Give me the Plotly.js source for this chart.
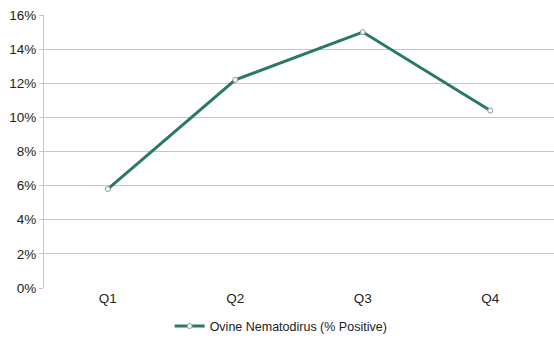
<!DOCTYPE html>
<html><head><meta charset="utf-8">
<script src="https://cdn.plot.ly/plotly-3.0.1.min.js"></script>
<style>html,body{margin:0;padding:0;background:#fff}#c{width:554px;height:340px}</style>
</head><body><div id="c"></div>
<script>
const categories = ["Q1", "Q2", "Q3", "Q4"];
const values = [0.058, 0.122, 0.150, 0.104];
const seriesName = "Ovine Nematodirus (% Positive)";
const yTicks = [0, 0.02, 0.04, 0.06, 0.08, 0.10, 0.12, 0.14, 0.16];

Plotly.newPlot("c", [{
  x: categories, y: values, name: seriesName, type: "scatter", mode: "lines+markers",
  line: {color: "#2b7a5c", width: 3},
  marker: {size: 5, color: "#ffffff", line: {color: "#8a9a94", width: 1}}
}], {
  width: 554, height: 340,
  margin: {l: 44, r: 0, t: 15, b: 52},
  paper_bgcolor: "#fff", plot_bgcolor: "#fff",
  font: {family: "Liberation Sans, Arial, sans-serif", size: 12, color: "#222"},
  showlegend: true,
  legend: {orientation: "h", x: 0.465, xanchor: "center", yref: "container", y: 0.04, yanchor: "middle", font: {size: 12.5}},
  xaxis: {type: "category", range: [-0.5, 3.5], showgrid: false, showline: false, ticks: "", tickfont: {size: 13.5}, zeroline: false, automargin: false},
  yaxis: {range: [0, 0.16], tickvals: yTicks, tickformat: ".0%", showgrid: true, gridcolor: "#cdc5c2", gridwidth: 1,
    showline: true, linecolor: "#cdc5c2", ticks: "outside", ticklen: 4, tickcolor: "#cdc5c2", zeroline: false, tickfont: {size: 13.5}, automargin: false}
}, {displayModeBar: false, staticPlot: true});
</script></body></html>
